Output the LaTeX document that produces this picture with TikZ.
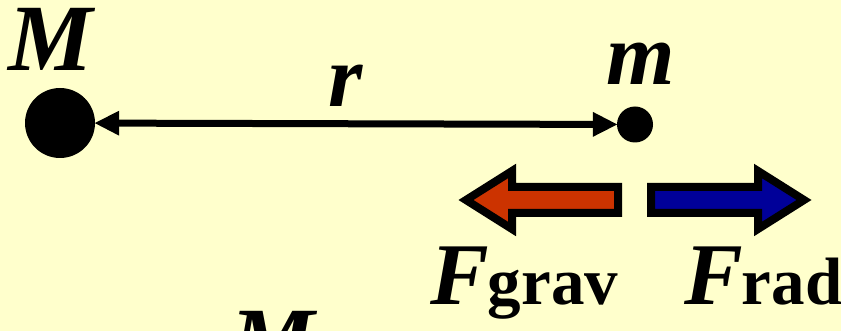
\documentclass[tikz,border=0pt]{standalone}
\usepackage{fontspec}
\setmainfont{Liberation Serif}
\usetikzlibrary{arrows.meta}
\definecolor{bgyellow}{HTML}{FFFFCC}
\definecolor{gravred}{HTML}{CC3300}
\definecolor{radblue}{HTML}{000099}
\newcommand{\forcesub}[1]{{\fontsize{67}{67}\selectfont\bfseries\upshape #1}}
\begin{document}
\begin{tikzpicture}[x=1pt,y=-1pt,
  bigtext/.style={inner sep=0pt, anchor=base west, font=\fontsize{88}{88}\selectfont\bfseries\itshape},
  masstext/.style={bigtext, font=\fontsize{95}{95}\selectfont\bfseries\itshape},
  mass/.style={circle, fill=black, inner sep=0pt},
  forcearrow/.style={draw=black, line width=8pt, miter limit=10, line join=miter}]
\fill[bgyellow] (0,0) rectangle (841,331);
\useasboundingbox (0,0) rectangle (841,331);
\clip (0,0) rectangle (841,331);
% masses
\node[mass, minimum size=70pt] (big) at (60,123) {};
\node[mass, minimum size=36pt] (small) at (635,124.5) {};
\draw[line width=7pt, {Triangle[length=25pt,width=23pt]}-{Triangle[length=25pt,width=23pt]}, shorten <=-1pt, shorten >=-1pt] (big) -- (small);
% labels
\node[masstext] (Mlabel) at (8,71) {M};
\node[bigtext] (mlabel) at (606,85) {m};
\node[bigtext] (rlabel) at (328,107) {r};
% force arrows
\path[forcearrow, fill=gravred] (466,200) -- (512,171) -- (512,187) -- (618,187) -- (618,213) -- (512,213) -- (512,229) -- cycle;
\path[forcearrow, fill=radblue] (804,200) -- (758,171) -- (758,187) -- (651,187) -- (651,213) -- (758,213) -- (758,229) -- cycle;
\node[bigtext] (Fgrav) at (430,305) {F\kern-1pt\forcesub{grav}};
\node[bigtext] (Frad) at (684,305) {F\kern-1pt\forcesub{rad}};
% cut-off label at the bottom
\node[masstext] (Mbottom) at (230,373) {M};
\end{tikzpicture}
\end{document}
